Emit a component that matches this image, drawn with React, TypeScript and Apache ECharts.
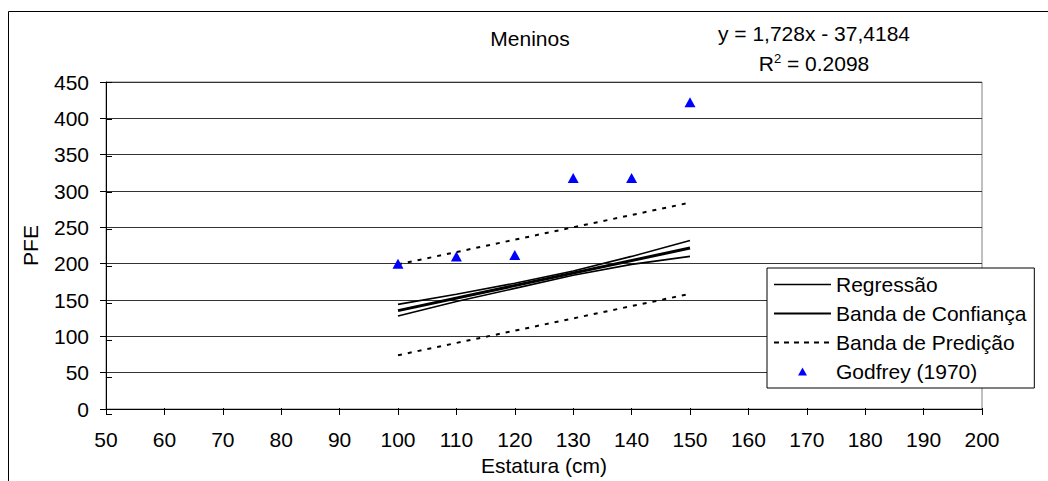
import React, { useEffect, useRef } from "react";
import * as echarts from "echarts";

// Tick labels / axes
const xTicks = { min: 50, max: 200, interval: 10 };
const yTicks = { min: 0, max: 450, interval: 50 };

// Godfrey (1970) observations
const godfreyX = [100, 110, 120, 130, 140, 150];
const godfreyY = [200, 210, 212, 318, 318, 422];

// Regression line endpoints (y = 1,728x - 37,4184)
const regX = [100, 150];
const regY = [135.4, 221.5];

// Confidence band
const bandX = [100, 110, 120, 130, 140, 150];
const confUpper = [144, 158, 173, 190, 210, 232];
const confLower = [128, 148, 166, 184, 199, 210];

// Prediction band
const predX = [100, 150];
const predUpper = [199, 284];
const predLower = [74, 158.5];

const legendNames = ["Regressão", "Banda de Confiança", "Banda de Predição", "Godfrey (1970)"];

const FONT = "Liberation Sans, Arial, sans-serif";
const FS = 21;

const zip = (xs: number[], ys: number[]) => xs.map((x, i) => [x, ys[i]]);

export default function App() {
  const ref = useRef<HTMLDivElement>(null);
  useEffect(() => {
    if (!ref.current) return;
    const chart = echarts.init(ref.current, undefined, { renderer: "svg" });
    const gridPos = { left: 106, right: 66, top: 82, bottom: 67 };
    const hiddenDot = { opacity: 0, color: "rgba(0,0,0,0)" };
    const option: any = {
      animation: false,
      textStyle: { fontFamily: FONT, color: "#000" },
      grid: [
        { ...gridPos, show: true, borderColor: "#808080", borderWidth: 1, backgroundColor: "transparent" },
        { ...gridPos, show: false },
      ],
      xAxis: [
        {
          type: "value", gridIndex: 0, ...xTicks,
          name: "Estatura (cm)", nameLocation: "middle", nameGap: 46,
          nameTextStyle: { fontSize: FS, color: "#000", fontFamily: FONT },
          axisLine: { show: true, lineStyle: { color: "#000", width: 1 } },
          axisTick: { show: true, inside: false, length: 6, lineStyle: { color: "#000" } },
          axisLabel: { fontSize: FS, color: "#000", margin: 20, fontFamily: FONT },
          splitLine: { show: false },
        },
        {
          type: "value", gridIndex: 1, ...xTicks,
          axisLine: { show: false },
          axisTick: { show: true, inside: true, length: 6, lineStyle: { color: "#000" } },
          axisLabel: { show: false },
          splitLine: { show: false },
        },
      ],
      yAxis: [
        {
          type: "value", gridIndex: 0, ...yTicks,
          name: "PFE", nameLocation: "middle", nameGap: 65,
          nameTextStyle: { fontSize: FS, color: "#000", fontFamily: FONT },
          axisLine: { show: true, lineStyle: { color: "#000", width: 1 } },
          axisTick: { show: true, inside: false, length: 6, lineStyle: { color: "#000" } },
          axisLabel: { fontSize: FS, color: "#000", margin: 17, fontFamily: FONT },
          splitLine: { show: true, lineStyle: { color: "#333", width: 1 } },
        },
        {
          type: "value", gridIndex: 1, ...yTicks,
          axisLine: { show: false },
          axisTick: { show: true, inside: true, length: 6, lineStyle: { color: "#000" } },
          axisLabel: { show: false },
          splitLine: { show: false },
        },
      ],
      legend: {
        orient: "vertical",
        left: 767,
        top: 268,
        padding: [6, 8, 6, 6],
        itemWidth: 57,
        itemHeight: 8,
        itemGap: 8,
        backgroundColor: "#fff",
        borderColor: "#000",
        borderWidth: 1,
        selectedMode: false,
        symbolKeepAspect: true,
        textStyle: { fontSize: FS, color: "#000", fontFamily: FONT, lineHeight: 21 },
        data: [
          { name: legendNames[0], lineStyle: { width: 1.5 }, itemStyle: hiddenDot },
          { name: legendNames[1], itemStyle: hiddenDot },
          { name: legendNames[2], lineStyle: { type: [5, 5] }, itemStyle: hiddenDot },
          { name: legendNames[3], icon: "path://M5,0L10,9L0,9Z", itemStyle: { color: "#0000ff" } },
        ],
      },
      graphic: [
        {
          type: "rect", silent: true, z: -10,
          shape: { x: 8.5, y: 11.5, width: 1200, height: 700 },
          style: { fill: "none", stroke: "#000", lineWidth: 1 },
        },
        {
          type: "text", x: 530, y: 38, silent: true,
          style: { text: "Meninos", font: `${FS}px ${FONT}`, fill: "#000", align: "center", verticalAlign: "middle" },
        },
        {
          type: "text", x: 814, y: 33, silent: true,
          style: { text: "y = 1,728x - 37,4184", font: `${FS}px ${FONT}`, fill: "#000", align: "center", verticalAlign: "middle" },
        },
        {
          type: "text", x: 814, y: 63, silent: true,
          style: {
            text: "{a|R}{s|2}{a| = 0.2098}",
            align: "center", verticalAlign: "middle",
            rich: {
              a: { fontSize: FS, fontFamily: FONT, fill: "#000", color: "#000" },
              s: { fontSize: 13, fontFamily: FONT, color: "#000", verticalAlign: "top", padding: [0, 0, 10, 0] },
            },
          },
        },
      ],
      series: [
        {
          name: legendNames[0], type: "line", data: zip(regX, regY),
          symbol: "none", lineStyle: { color: "#000", width: 3 }, itemStyle: { color: "#000" },
          silent: true, z: 5,
        },
        {
          name: legendNames[1], type: "line", data: zip(bandX, confUpper),
          symbol: "none", lineStyle: { color: "#000", width: 1.6 }, itemStyle: { color: "#000" },
          silent: true, z: 4,
        },
        {
          name: legendNames[1], type: "line", data: zip(bandX, confLower),
          symbol: "none", lineStyle: { color: "#000", width: 1.6 }, itemStyle: { color: "#000" },
          silent: true, z: 4,
        },
        {
          name: legendNames[2], type: "line", data: zip(predX, predUpper),
          symbol: "none", lineStyle: { color: "#000", width: 2, type: [4, 6] }, itemStyle: { color: "#000" },
          silent: true, z: 4,
        },
        {
          name: legendNames[2], type: "line", data: zip(predX, predLower),
          symbol: "none", lineStyle: { color: "#000", width: 2, type: [4, 6] }, itemStyle: { color: "#000" },
          silent: true, z: 4,
        },
        {
          name: legendNames[3], type: "scatter", data: zip(godfreyX, godfreyY),
          symbol: "triangle", symbolSize: [11, 10], itemStyle: { color: "#0000ff", opacity: 1 },
          silent: true, z: 6,
        },
      ],
    };
    chart.setOption(option);
    return () => chart.dispose();
  }, []);
  return (
    <div
      ref={ref}
      style={{ position: "fixed", left: 0, top: 0, width: 1048, height: 481, background: "#fff" }}
    />
  );
}
